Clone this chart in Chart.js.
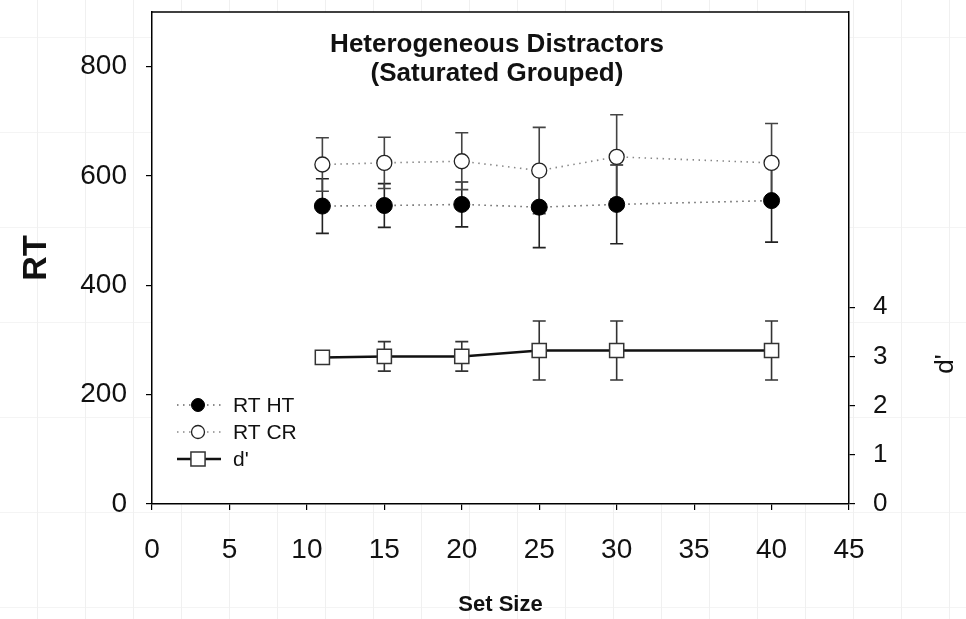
<!DOCTYPE html>
<html>
<head>
<meta charset="utf-8">
<title>Heterogeneous Distractors (Saturated Grouped)</title>
<script src="https://cdn.jsdelivr.net/npm/chart.js@4.4.1/dist/chart.umd.min.js"></script>
<style>
  html, body { margin: 0; padding: 0; }
  body {
    background-color: #fff;
    background-image:
      linear-gradient(to right, #f0f0f0 1px, transparent 1px),
      linear-gradient(to bottom, #f4f4f4 1px, transparent 1px);
    background-size: 48px 100%, 100% 95px;
    background-position: 37px 0, 0 37px;
  }
  #wrap { position: relative; width: 966px; height: 619px; }
</style>
</head>
<body>
<div id="wrap"><canvas id="chart"></canvas></div>
<script>
// set sizes and the three measures (mean and error half-width)
const setSize = [11, 15, 20, 25, 30, 40];
const rtHit = [545, 546, 548, 543, 548, 555];
const rtHitErr = [50, 40, 41, 74, 72, 76];
const rtCr = [621, 624, 627, 610, 635, 624];
const rtCrErr = [49, 47, 52, 79, 77, 72];
const dPrime = [2.98, 3.0, 3.0, 3.12, 3.12, 3.12];
const dPrimeErr = [0.1, 0.3, 0.3, 0.6, 0.6, 0.6];

// tick labels shown on each axis
const xTicks = [0, 5, 10, 15, 20, 25, 30, 35, 40, 45];
const rtTicks = [0, 200, 400, 600, 800];
const dTicks = [0, 1, 2, 3, 4];

const FONT = "'Liberation Sans', Arial, sans-serif";
Chart.defaults.font.family = FONT;
Chart.defaults.color = "#111";

const pts = (ys) => setSize.map((x, i) => ({ x: x, y: ys[i] }));

// vertical error bars with caps, drawn under the markers
const errorBars = {
  id: "errorBars",
  beforeDatasetsDraw(chart) {
    const ctx = chart.ctx;
    const xs = chart.scales.x;
    ctx.save();
    chart.data.datasets.forEach((ds) => {
      if (!ds.errors) return;
      const ys = chart.scales[ds.yAxisID];
      ctx.strokeStyle = ds.errorColor || "#333";
      ctx.lineWidth = 1.6;
      ds.data.forEach((p, i) => {
        const px = xs.getPixelForValue(p.x);
        const top = ys.getPixelForValue(p.y + ds.errors[i]);
        const bot = ys.getPixelForValue(p.y - ds.errors[i]);
        ctx.beginPath();
        ctx.moveTo(px, top); ctx.lineTo(px, bot);
        ctx.moveTo(px - 6.5, top); ctx.lineTo(px + 6.5, top);
        ctx.moveTo(px - 6.5, bot); ctx.lineTo(px + 6.5, bot);
        ctx.stroke();
      });
    });
    ctx.restore();
  }
};

// white plot panel and the top edge of the frame
const frame = {
  id: "frame",
  beforeDraw(chart) {
    const { ctx, chartArea: a } = chart;
    ctx.save();
    ctx.fillStyle = "#fff";
    ctx.fillRect(a.left, a.top, a.right - a.left, a.bottom - a.top);
    ctx.restore();
  },
  afterDraw(chart) {
    const { ctx, chartArea: a } = chart;
    ctx.save();
    ctx.strokeStyle = "#000";
    ctx.lineWidth = 1.5;
    ctx.beginPath();
    ctx.moveTo(a.left, a.top);
    ctx.lineTo(a.right, a.top);
    ctx.stroke();
    ctx.restore();
  }
};

// title inside the plot, right axis label, legend in lower left
const annotations = {
  id: "annotations",
  afterDraw(chart) {
    const ctx = chart.ctx;
    ctx.save();
    ctx.fillStyle = "#111";
    ctx.textAlign = "center";
    ctx.textBaseline = "middle";
    ctx.font = "bold 26px " + FONT;
    ctx.fillText("Heterogeneous Distractors", 497, 45);
    ctx.fillText("(Saturated Grouped)", 497, 74);

    ctx.save();
    ctx.translate(946, 364);
    ctx.rotate(-Math.PI / 2);
    ctx.font = "26px " + FONT;
    ctx.fillText("d'", 0, 0);
    ctx.restore();

    const rows = [405, 432, 459];
    chart.data.datasets.forEach((ds, i) => {
      const y = rows[i];
      ctx.save();
      ctx.strokeStyle = ds.borderColor;
      ctx.lineWidth = ds.borderWidth;
      ctx.setLineDash(ds.borderDash || []);
      ctx.beginPath();
      ctx.moveTo(177, y);
      ctx.lineTo(221, y);
      ctx.stroke();
      ctx.restore();
      ctx.save();
      ctx.fillStyle = ds.pointBackgroundColor;
      ctx.strokeStyle = ds.pointBorderColor;
      ctx.lineWidth = ds.pointBorderWidth;
      Chart.helpers.drawPoint(ctx, {
        pointStyle: ds.pointStyle,
        radius: ds.pointStyle === "rect" ? 10 : 6.5,
        rotation: 0,
        borderWidth: ds.pointBorderWidth
      }, 198, y);
      ctx.restore();
      ctx.textAlign = "left";
      ctx.font = "21px " + FONT;
      ctx.fillText(ds.label, 233, y + 1);
    });
    ctx.restore();
  }
};

const axisLine = { color: "#000", width: 1.5 };
const tickGrid = { drawOnChartArea: false, drawTicks: true, tickLength: 6, color: "#000", lineWidth: 1.2 };
const noPadY = (w) => (s) => { s.width = w; s.paddingTop = 0; s.paddingBottom = 0; };

new Chart(document.getElementById("chart"), {
  type: "line",
  data: {
    datasets: [
      {
        label: "RT HT",
        data: pts(rtHit),
        errors: rtHitErr,
        errorColor: "#222",
        yAxisID: "y",
        borderColor: "#666",
        borderWidth: 1.6,
        borderDash: [1.5, 4.5],
        pointStyle: "circle",
        pointRadius: 8,
        pointBackgroundColor: "#000",
        pointBorderColor: "#000",
        pointBorderWidth: 1
      },
      {
        label: "RT CR",
        data: pts(rtCr),
        errors: rtCrErr,
        errorColor: "#444",
        yAxisID: "y",
        borderColor: "#888",
        borderWidth: 1.6,
        borderDash: [1.5, 4.5],
        pointStyle: "circle",
        pointRadius: 7.5,
        pointBackgroundColor: "#fff",
        pointBorderColor: "#222",
        pointBorderWidth: 1.3
      },
      {
        label: "d'",
        data: pts(dPrime),
        errors: dPrimeErr,
        errorColor: "#333",
        yAxisID: "y2",
        borderColor: "#111",
        borderWidth: 2.5,
        pointStyle: "rect",
        pointRadius: 10,
        pointBackgroundColor: "#fff",
        pointBorderColor: "#333",
        pointBorderWidth: 1.5
      }
    ]
  },
  options: {
    responsive: true,
    maintainAspectRatio: false,
    animation: false,
    layout: { padding: { top: 12, left: 0, right: 0, bottom: 0 } },
    plugins: {
      legend: { display: false },
      tooltip: { enabled: false }
    },
    scales: {
      x: {
        type: "linear",
        min: 0,
        max: 45,
        afterBuildTicks: (s) => { s.ticks = xTicks.map((v) => ({ value: v })); },
        afterFit: (s) => { s.height = 115; s.paddingLeft = 0; s.paddingRight = 0; },
        ticks: { font: { size: 28 }, padding: 23 },
        grid: tickGrid,
        border: axisLine,
        title: {
          display: true,
          text: "Set Size",
          font: { size: 22, weight: "bold" },
          padding: { top: 0, bottom: 1 }
        }
      },
      y: {
        position: "left",
        min: 0,
        max: 900,
        afterBuildTicks: (s) => { s.ticks = rtTicks.map((v) => ({ value: v })); },
        afterFit: noPadY(152),
        ticks: { font: { size: 28 }, padding: 19 },
        grid: tickGrid,
        border: axisLine,
        title: {
          display: true,
          text: "RT",
          font: { size: 34, weight: "bold" },
          padding: { top: 16, bottom: 0 }
        }
      },
      y2: {
        position: "right",
        min: 0,
        max: 10,
        afterBuildTicks: (s) => { s.ticks = dTicks.map((v) => ({ value: v })); },
        afterFit: noPadY(117),
        ticks: { font: { size: 26 }, padding: 18 },
        grid: tickGrid,
        border: axisLine
      }
    }
  },
  plugins: [frame, errorBars, annotations]
});
</script>
</body>
</html>
